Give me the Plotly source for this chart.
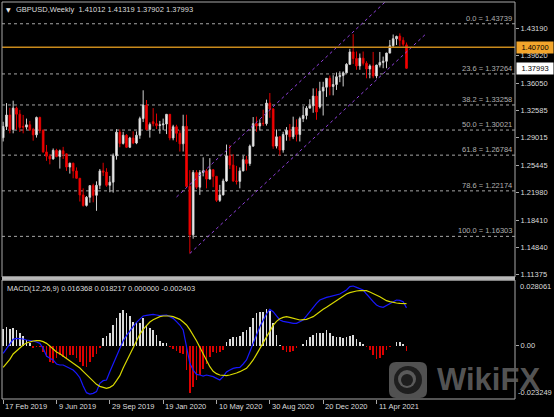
import plotly.graph_objects as go
import pandas as pd

# ---------------- data ----------------
START = "2019-02-17"
opens = [1.2903, 1.3048, 1.3196, 1.3010, 1.3285, 1.3207, 1.3050, 1.3040, 1.3070, 1.3005,
         1.2940, 1.3165, 1.3000, 1.2720, 1.2665, 1.2630, 1.2740, 1.2660, 1.2735, 1.2695,
         1.2525, 1.2575, 1.2475, 1.2380, 1.2165, 1.2030, 1.2135, 1.2285, 1.2160, 1.2290,
         1.2475, 1.2460, 1.2290, 1.2330, 1.2670, 1.2975, 1.2830, 1.2935, 1.2780, 1.2900,
         1.2835, 1.2935, 1.3150, 1.3325, 1.3010, 1.3110, 1.3085, 1.3060, 1.3070, 1.3080,
         1.3205, 1.2900, 1.3045, 1.2960, 1.2825, 1.3050, 1.2275, 1.1650, 1.2455, 1.2265,
         1.2455, 1.2475, 1.2370, 1.2490, 1.2405, 1.2095, 1.2165, 1.2345, 1.2670, 1.2550,
         1.2345, 1.2340, 1.2475, 1.2620, 1.2570, 1.2795, 1.3085, 1.3055, 1.3090, 1.3085,
         1.3350, 1.3275, 1.2795, 1.2915, 1.2745, 1.2945, 1.3000, 1.2915, 1.3040, 1.2945,
         1.3150, 1.3190, 1.3285, 1.3315, 1.3440, 1.3300, 1.3505, 1.3555, 1.3670, 1.3565,
         1.3590, 1.3690, 1.3705, 1.3740, 1.3850, 1.4010, 1.3925, 1.3830, 1.3930, 1.3865,
         1.3790, 1.3830, 1.3700, 1.3840, 1.3875, 1.3890, 1.3995, 1.4090, 1.4180, 1.4215,
         1.4160, 1.41012]
highs = [1.3109, 1.3350, 1.3290, 1.3381, 1.3305, 1.3262, 1.3197, 1.3150, 1.3120, 1.3030,
         1.3176, 1.3175, 1.3010, 1.2810, 1.2690, 1.2765, 1.2760, 1.2750, 1.2785, 1.2700,
         1.2580, 1.2580, 1.2520, 1.2380, 1.2250, 1.2150, 1.2290, 1.2310, 1.2340, 1.2500,
         1.2580, 1.2510, 1.2410, 1.2700, 1.3013, 1.3010, 1.2980, 1.2950, 1.2915, 1.2985,
         1.2985, 1.3175, 1.3515, 1.3390, 1.3100, 1.3285, 1.3215, 1.3120, 1.3150, 1.3210,
         1.3210, 1.3070, 1.3070, 1.3000, 1.3200, 1.3200, 1.2485, 1.2485, 1.2485, 1.2485,
         1.2650, 1.2500, 1.2640, 1.2500, 1.2410, 1.2295, 1.2375, 1.2815, 1.2810, 1.2690,
         1.2540, 1.2520, 1.2670, 1.2670, 1.2815, 1.3170, 1.3175, 1.3140, 1.3265, 1.3395,
         1.3480, 1.3285, 1.3010, 1.2925, 1.2980, 1.3040, 1.3080, 1.3175, 1.3140, 1.3175,
         1.3310, 1.3310, 1.3400, 1.3540, 1.3540, 1.3625, 1.3625, 1.3670, 1.3705, 1.3710,
         1.3745, 1.3760, 1.3760, 1.3865, 1.4050, 1.4240, 1.4015, 1.3990, 1.4015, 1.3890,
         1.3850, 1.4010, 1.3845, 1.4010, 1.3950, 1.4000, 1.4165, 1.4235, 1.4220, 1.4250,
         1.4200, 1.41319]
lows = [1.2855, 1.3003, 1.2960, 1.2960, 1.3004, 1.2977, 1.2960, 1.3010, 1.2990, 1.2865,
        1.2905, 1.2960, 1.2710, 1.2605, 1.2560, 1.2620, 1.2650, 1.2505, 1.2630, 1.2475,
        1.2440, 1.2380, 1.2375, 1.2080, 1.2015, 1.2015, 1.2065, 1.2070, 1.1960, 1.2240,
        1.2410, 1.2270, 1.2200, 1.2195, 1.2620, 1.2780, 1.2815, 1.2770, 1.2770, 1.2820,
        1.2820, 1.2890, 1.3105, 1.3000, 1.2905, 1.3050, 1.3015, 1.2955, 1.3000, 1.2950,
        1.2870, 1.2870, 1.2850, 1.2725, 1.2725, 1.2260, 1.1410, 1.1600, 1.2240, 1.2165,
        1.2405, 1.2250, 1.2365, 1.2265, 1.2075, 1.2075, 1.2160, 1.2335, 1.2500, 1.2335,
        1.2300, 1.2250, 1.2470, 1.2480, 1.2540, 1.2785, 1.2980, 1.2995, 1.3055, 1.3060,
        1.3160, 1.2760, 1.2765, 1.2675, 1.2710, 1.2865, 1.2865, 1.2885, 1.2855, 1.2855,
        1.3105, 1.3140, 1.3285, 1.3225, 1.3135, 1.3280, 1.3190, 1.3430, 1.3450, 1.3450,
        1.3520, 1.3620, 1.3565, 1.3735, 1.3850, 1.3855, 1.3780, 1.3780, 1.3835, 1.3670,
        1.3670, 1.3670, 1.3670, 1.3810, 1.3800, 1.3800, 1.3995, 1.4070, 1.4100, 1.4085,
        1.4080, 1.37902]
closes = [1.3048, 1.3196, 1.3010, 1.3285, 1.3207, 1.3036, 1.3040, 1.3070, 1.3005, 1.2940,
          1.3165, 1.3000, 1.2720, 1.2665, 1.2630, 1.2740, 1.2660, 1.2735, 1.2695, 1.2525,
          1.2575, 1.2475, 1.2380, 1.2165, 1.2030, 1.2135, 1.2285, 1.2160, 1.2290, 1.2475,
          1.2460, 1.2290, 1.2330, 1.2670, 1.2975, 1.2830, 1.2935, 1.2780, 1.2900, 1.2835,
          1.2935, 1.3150, 1.3325, 1.3010, 1.3075, 1.3085, 1.3060, 1.3070, 1.3080, 1.3205,
          1.2900, 1.3045, 1.2960, 1.2825, 1.3050, 1.2275, 1.1650, 1.2455, 1.2265, 1.2455,
          1.2475, 1.2370, 1.2490, 1.2405, 1.2095, 1.2165, 1.2345, 1.2670, 1.2550, 1.2345,
          1.2340, 1.2475, 1.2620, 1.2570, 1.2795, 1.3085, 1.3055, 1.3090, 1.3085, 1.3350,
          1.3275, 1.2795, 1.2915, 1.2745, 1.2945, 1.3000, 1.2915, 1.3040, 1.2945, 1.3150,
          1.3190, 1.3285, 1.3315, 1.3440, 1.3235, 1.3505, 1.3555, 1.3670, 1.3565, 1.3590,
          1.3690, 1.3705, 1.3740, 1.3850, 1.4010, 1.3925, 1.3830, 1.3930, 1.3865, 1.3790,
          1.3830, 1.3700, 1.3840, 1.3875, 1.3890, 1.3995, 1.4090, 1.4180, 1.4210, 1.4160,
          1.4110, 1.37993]

macd_main = [-0.00341, -0.00123, 0.00094, 0.00268, 0.00312, 0.00312, 0.00283, 0.00239, 0.00225, 0.00196,
             0.00152, 0.00094, -0.00123, -0.00457, -0.00558, -0.00630, -0.00804, -0.00848, -0.00848, -0.00920,
             -0.00993, -0.01065, -0.01210, -0.01399, -0.01761, -0.02051, -0.02109, -0.02080, -0.02007, -0.01645,
             -0.01529, -0.01500, -0.01138, -0.00804, -0.00413, -0.00080, 0.00210, 0.00428, 0.00645, 0.00819,
             0.01007, 0.01167, 0.01283, 0.01312, 0.01341, 0.01355, 0.01326, 0.01297, 0.01312, 0.01326,
             0.01254, 0.01181, 0.01036, 0.00891, 0.00674, 0.00022, -0.00775, -0.01065, -0.01254, -0.01283,
             -0.01326, -0.01283, -0.01312, -0.01355, -0.01428, -0.01500, -0.01355, -0.01152, -0.01065, -0.00993,
             -0.00964, -0.00949, -0.00804, -0.00630, -0.00268, 0.00065, 0.00457, 0.00819, 0.01109, 0.01370,
             0.01572, 0.01471, 0.01283, 0.01109, 0.01051, 0.01036, 0.00993, 0.00964, 0.00964, 0.01036,
             0.01109, 0.01283, 0.01471, 0.01659, 0.01833, 0.01978, 0.02051, 0.02094, 0.02123, 0.02152,
             0.02181, 0.02239, 0.02326, 0.02413, 0.02558, 0.02587, 0.02529, 0.02471, 0.02413, 0.02239,
             0.02051, 0.01906, 0.01761, 0.01688, 0.01659, 0.01746, 0.01833, 0.01920, 0.01978, 0.01964,
             0.01906, 0.016368]
macd_signal = [-0.00949, -0.00775, -0.00601, -0.00370, -0.00225, -0.00080, 0.00022, 0.00109, 0.00167, 0.00196,
               0.00210, 0.00210, 0.00167, 0.00094, -0.00022, -0.00167, -0.00283, -0.00355, -0.00457, -0.00543,
               -0.00659, -0.00761, -0.00862, -0.00978, -0.01123, -0.01268, -0.01413, -0.01558, -0.01688, -0.01775,
               -0.01833, -0.01862, -0.01819, -0.01732, -0.01529, -0.01312, -0.00978, -0.00674, -0.00370, -0.00080,
               0.00210, 0.00486, 0.00703, 0.00877, 0.01022, 0.01123, 0.01196, 0.01254, 0.01283, 0.01297,
               0.01283, 0.01254, 0.01210, 0.01138, 0.01022, 0.00891, 0.00688, 0.00471, 0.00210, -0.00080,
               -0.00370, -0.00674, -0.00920, -0.01123, -0.01225, -0.01283, -0.01312, -0.01312, -0.01283, -0.01254,
               -0.01196, -0.01138, -0.01080, -0.00993, -0.00819, -0.00630, -0.00384, -0.00138, 0.00123, 0.00370,
               0.00630, 0.00877, 0.01051, 0.01167, 0.01225, 0.01254, 0.01225, 0.01181, 0.01138, 0.01109,
               0.01123, 0.01138, 0.01196, 0.01254, 0.01355, 0.01471, 0.01572, 0.01659, 0.01761, 0.01862,
               0.01949, 0.02051, 0.02138, 0.02239, 0.02297, 0.02341, 0.02370, 0.02384, 0.02384, 0.02384,
               0.02326, 0.02268, 0.02196, 0.02123, 0.02036, 0.01949, 0.01906, 0.01862, 0.01848, 0.01833,
               0.01833, 0.018217]
macd_hist = [0.0070, 0.0082, 0.0070, 0.0078, 0.0067, 0.0056, 0.0041, 0.0024, 0.0012, -0.0012,
             -0.0005, -0.0005, -0.0027, -0.0049, -0.0070, -0.0078, -0.0056, -0.0041, -0.0049, -0.0056,
             -0.0041, -0.0041, -0.0056, -0.0070, -0.0089, -0.0095, -0.0070, -0.0049, -0.0037, -0.0012,
             0.0031, 0.0041, 0.0053, 0.0089, 0.0118, 0.0140, 0.0154, 0.0140, 0.0128, 0.0104,
             0.0099, 0.0096, 0.0118, 0.0089, 0.0075, 0.0067, 0.0046, 0.0020, 0.0012, 0.0009,
             -0.0005, -0.0017, -0.0022, -0.0031, -0.0037, -0.0107, -0.0208, -0.0179, -0.0150, -0.0128,
             -0.0104, -0.0080, -0.0051, -0.0027, -0.0034, -0.0027, -0.0020, 0.0017, 0.0027, 0.0036,
             0.0036, 0.0041, 0.0060, 0.0067, 0.0082, 0.0118, 0.0140, 0.0147, 0.0147, 0.0157,
             0.0154, 0.0096, 0.0046, 0.0001, -0.0020, -0.0027, -0.0027, -0.0022, -0.0012, -0.0001,
             0.0005, 0.0024, 0.0036, 0.0046, 0.0053, 0.0056, 0.0053, 0.0067, 0.0053, 0.0041,
             0.0038, 0.0036, 0.0031, 0.0036, 0.0041, 0.0046, 0.0027, 0.0017, 0.0007, -0.0005,
             -0.0020, -0.0041, -0.0060, -0.0056, -0.0041, -0.0020, -0.0005, -0.0001, 0.0017, 0.0017,
             0.0007, -0.002403]

price_ticks = [1.43190, 1.39620, 1.36050, 1.32585, 1.29015, 1.25445, 1.21980, 1.18410, 1.14840, 1.11375]
date_tick_dates = ["2019-02-17", "2019-06-09", "2019-09-29", "2020-01-19",
                   "2020-05-10", "2020-08-30", "2020-12-20", "2021-04-11"]
date_tick_labels = ["17 Feb 2019", "9 Jun 2019", "29 Sep 2019", "19 Jan 2020",
                    "10 May 2020", "30 Aug 2020", "20 Dec 2020", "11 Apr 2021"]
fib_pct = [0.0, 23.6, 38.2, 50.0, 61.8, 78.6, 100.0]
fib_price = [1.43739, 1.37264, 1.33258, 1.30021, 1.26784, 1.22174, 1.16303]
hline_price = 1.40700
channel_upper_dates = ["2020-02-16", "2021-06-06"]
channel_upper_prices = [1.2138, 1.4872]
channel_lower_dates = ["2020-03-15", "2021-07-25"]
channel_lower_prices = [1.1410, 1.4250]
macd_params = "12,26,9"
macd_axis_max = 0.028061
macd_axis_min = -0.023249
symbol = "GBPUSD,Weekly"

dates = pd.date_range(START, periods=len(closes), freq="7D")

# ---------------- geometry ----------------
W, H = 554, 417
ML, MR, MT, MB = 2, 39, 2, 18
PW, PH = W - ML - MR, H - MT - MB


def fx(px):
    return (px - ML) / PW


def fy(py):
    return (H - MB - py) / PH


FONT = "Liberation Sans, Arial, sans-serif"
FS = 7.5
TXT = "#dcdcdc"
FRAME = "#a8a8a8"

t0 = pd.Timestamp(START)
x_range = [t0 - pd.Timedelta(days=7 * 0.35), t0 + pd.Timedelta(days=7 * 153.55)]

fig = go.Figure()

fig.add_trace(go.Candlestick(
    x=dates, open=opens, high=highs, low=lows, close=closes,
    xaxis="x", yaxis="y",
    increasing=dict(line=dict(color="#cfcfcf", width=1), fillcolor="#ffffff"),
    decreasing=dict(line=dict(color="#e00000", width=1), fillcolor="#ff0000"),
    whiskerwidth=0, showlegend=False, hoverinfo="skip"))

for dx, py in ((channel_upper_dates, channel_upper_prices), (channel_lower_dates, channel_lower_prices)):
    fig.add_trace(go.Scatter(x=dx, y=py, mode="lines", xaxis="x", yaxis="y",
                             line=dict(color="#9040dc", width=1, dash="3px,3px"),
                             showlegend=False, hoverinfo="skip"))

hist_pos = [v if v > 0 else None for v in macd_hist]
hist_neg = [v if v < 0 else None for v in macd_hist]
bw = 3.0 * 86400000
fig.add_trace(go.Bar(x=dates, y=hist_pos, width=bw, marker=dict(color="#dadada", line=dict(width=0)),
                     xaxis="x2", yaxis="y2", showlegend=False, hoverinfo="skip"))
fig.add_trace(go.Bar(x=dates, y=hist_neg, width=bw, marker=dict(color="#dd0000", line=dict(width=0)),
                     xaxis="x2", yaxis="y2", showlegend=False, hoverinfo="skip"))
fig.add_trace(go.Scatter(x=dates, y=macd_main, mode="lines", line=dict(color="#1818ff", width=1.2),
                         xaxis="x2", yaxis="y2", showlegend=False, hoverinfo="skip"))
fig.add_trace(go.Scatter(x=dates, y=macd_signal, mode="lines", line=dict(color="#d8d800", width=1.2),
                         xaxis="x2", yaxis="y2", showlegend=False, hoverinfo="skip"))

shapes = []
for p in fib_price:
    shapes.append(dict(type="line", xref="paper", yref="y", x0=0, x1=1, y0=p, y1=p,
                       line=dict(color="#a6a6a6", width=1, dash="3px,3px"), layer="below"))
shapes.append(dict(type="line", xref="paper", yref="y", x0=0, x1=1, y0=hline_price, y1=hline_price,
                   line=dict(color="#c98a1c", width=1.6), layer="above"))
# frames
shapes.append(dict(type="rect", xref="paper", yref="paper", x0=0, x1=1, y0=fy(277), y1=1,
                   line=dict(color=FRAME, width=1)))
shapes.append(dict(type="rect", xref="paper", yref="paper", x0=0, x1=1, y0=fy(280.5), y1=fy(276.5),
                   fillcolor="#b8b8b8", line=dict(width=0)))
shapes.append(dict(type="rect", xref="paper", yref="paper", x0=0, x1=1, y0=0, y1=fy(280),
                   line=dict(color=FRAME, width=1)))

# watermark icon
def rrect(x0, y0, x1, y1, r):
    X0, X1 = fx(x0), fx(x1)
    Y0, Y1 = fy(y0), fy(y1)
    rx, ry = r / PW, r / PH
    return (f"M {X0+rx},{Y0} L {X1-rx},{Y0} Q {X1},{Y0} {X1},{Y0-ry} "
            f"L {X1},{Y1+ry} Q {X1},{Y1} {X1-rx},{Y1} L {X0+rx},{Y1} Q {X0},{Y1} {X0},{Y1+ry} "
            f"L {X0},{Y0-ry} Q {X0},{Y0} {X0+rx},{Y0} Z")

shapes.append(dict(type="path", xref="paper", yref="paper", path=rrect(389, 362, 427, 398, 7),
                   fillcolor="rgba(90,90,90,0.9)", line=dict(width=0), layer="above"))
shapes.append(dict(type="circle", xref="paper", yref="paper", x0=fx(394), x1=fx(422), y0=fy(394), y1=fy(366),
                   fillcolor="#1e1e1e", line=dict(width=0), layer="above"))
shapes.append(dict(type="circle", xref="paper", yref="paper", x0=fx(398), x1=fx(416), y0=fy(388), y1=fy(370),
                   fillcolor="rgba(90,90,90,1)", line=dict(width=0), layer="above"))
shapes.append(dict(type="circle", xref="paper", yref="paper", x0=fx(401), x1=fx(413), y0=fy(386), y1=fy(374),
                   fillcolor="#1e1e1e", line=dict(width=0), layer="above"))

ann = []
f8 = dict(family=FONT, size=FS, color=TXT)
for d, lbl in zip(date_tick_dates, date_tick_labels):
    ann.append(dict(x=d, xref="x2", y=0, yref="paper", yanchor="top", xanchor="left", text=lbl,
                    showarrow=False, font=f8, xshift=0, yshift=-1))
for pct, p in zip(fib_pct, fib_price):
    ann.append(dict(x=1, xref="paper", xanchor="right", xshift=-1, y=p, yref="y", yanchor="bottom",
                    text=f"{pct:.1f} = {p:.5f}", showarrow=False, yshift=-1,
                    font=dict(family=FONT, size=FS, color="#b0b0b0")))
ann.append(dict(x=1, xref="paper", xanchor="left", xshift=1, y=hline_price, yref="y", yanchor="middle",
                text=f"{hline_price:.5f}", showarrow=False, bgcolor="#f2a52c", width=34, borderpad=1,
                font=dict(family=FONT, size=FS, color="#000000")))
ann.append(dict(x=1, xref="paper", xanchor="left", xshift=1, y=closes[-1], yref="y", yanchor="middle",
                text=f"{closes[-1]:.5f}", showarrow=False, bgcolor="#ffffff", width=34, borderpad=1,
                font=dict(family=FONT, size=FS, color="#000000")))
ann.append(dict(x=fx(4), xref="paper", y=fy(10), yref="paper", xanchor="left", yanchor="middle",
                text="▼", showarrow=False, font=dict(family="DejaVu Sans", size=6, color="#e8e8e8")))
ann.append(dict(x=fx(14), xref="paper", y=fy(10), yref="paper", xanchor="left", yanchor="middle",
                text=f"{symbol}  {opens[-1]:.5f} {highs[-1]:.5f} {lows[-1]:.5f} {closes[-1]:.5f}",
                showarrow=False, font=f8))
ann.append(dict(x=fx(5), xref="paper", y=fy(288), yref="paper", xanchor="left", yanchor="middle",
                text=f"MACD({macd_params}) {macd_main[-1]:.6f} {macd_signal[-1]:.6f} "
                     f"{max(macd_hist[-1], 0):.6f} {min(macd_hist[-1], 0):.6f}",
                showarrow=False, font=f8))
ann.append(dict(x=1, xref="paper", xanchor="left", xshift=3, y=0.02848, yref="y2", yanchor="top",
                text=f"{macd_axis_max:.6f}", showarrow=False, font=f8))
ann.append(dict(x=1, xref="paper", xanchor="left", xshift=1, y=-0.02326, yref="y2", yanchor="bottom",
                text=f"{macd_axis_min:.6f}", showarrow=False, font=f8))
ann.append(dict(x=fx(435), xref="paper", y=fy(379), yref="paper", xanchor="left", yanchor="middle",
                text="<b>WikiFX</b>", showarrow=False,
                font=dict(family="Liberation Sans, Arial", size=31, color="rgba(95,95,95,0.9)")))

axis_common = dict(showgrid=False, zeroline=False, showline=False)
fig.update_layout(
    width=W, height=H, autosize=False,
    margin=dict(l=ML, r=MR, t=MT, b=MB, pad=0),
    paper_bgcolor="#000000", plot_bgcolor="#000000",
    showlegend=False, bargap=0, barmode="overlay",
    xaxis=dict(domain=[0, 1], anchor="y", type="date", range=x_range, showticklabels=False, ticks="",
               rangeslider=dict(visible=False), **axis_common),
    xaxis2=dict(domain=[0, 1], anchor="y2", type="date", range=x_range, matches="x",
                tickmode="array", tickvals=date_tick_dates, showticklabels=False,
                ticks="outside", ticklen=4, tickcolor=FRAME, tickwidth=1,
                rangeslider=dict(visible=False), **axis_common),
    yaxis=dict(domain=[fy(277), 1], anchor="x", side="right", range=[1.11061, 1.46545],
               tickmode="array", tickvals=price_ticks, ticktext=[f"{v:.5f}" for v in price_ticks],
               ticks="outside", ticklen=3, tickcolor=FRAME, tickfont=f8, **axis_common),
    yaxis2=dict(domain=[0, fy(280)], anchor="x2", side="right", range=[-0.02326, 0.02848],
                tickmode="array", tickvals=[0], ticktext=["0.00"],
                ticks="outside", ticklen=3, tickcolor=FRAME, tickfont=f8, **axis_common),
    shapes=shapes, annotations=ann,
)

fig.write_html("out.html", config={"displayModeBar": False, "staticPlot": True},
               post_script="document.body.style.margin='0px';document.body.style.overflow='hidden';")
